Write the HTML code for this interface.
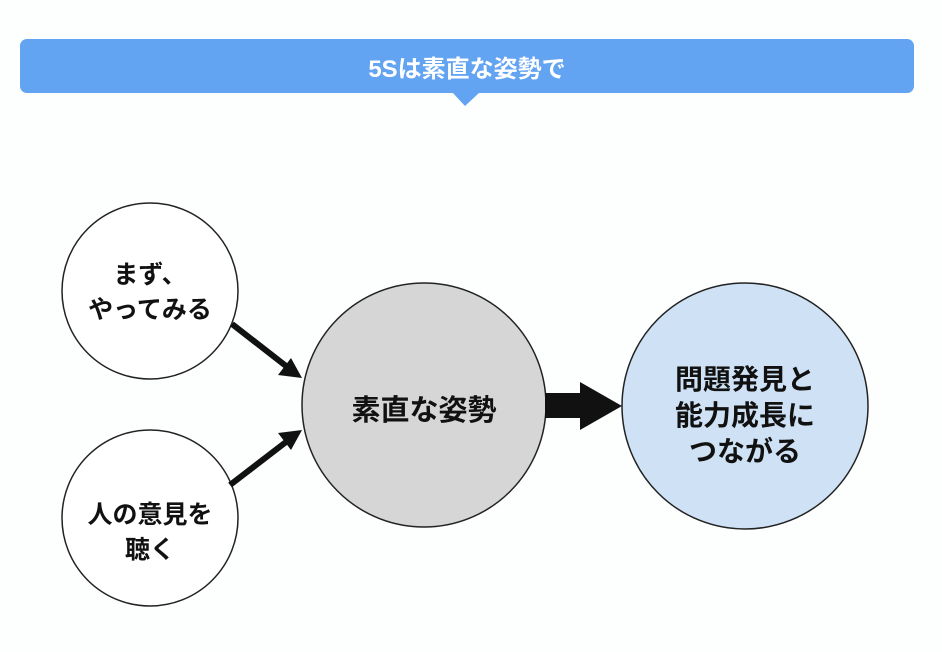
<!DOCTYPE html>
<html><head><meta charset="utf-8"><style>
body{margin:0;background:#fdfefe;}
svg{display:block}
text{font-family:"Liberation Sans","Noto Sans CJK JP",sans-serif;font-weight:bold;}
</style></head><body>
<svg width="942" height="652" viewBox="0 0 942 652">
<rect x="20" y="39" width="894" height="54" rx="7" fill="#62a3f2"/>
<polygon points="452,92 480,92 465,106" fill="#62a3f2"/>
<text x="467" y="77" font-size="24" fill="#fff" text-anchor="middle">5Sは素直な姿勢で</text>
<circle cx="150" cy="291" r="88" fill="#fff" stroke="#222" stroke-width="1.5"/>
<text x="150" y="283" font-size="25" text-anchor="middle" fill="#111">まず、</text>
<text x="150" y="318" font-size="25" text-anchor="middle" fill="#111">やってみる</text>
<circle cx="150" cy="518" r="88" fill="#fff" stroke="#222" stroke-width="1.5"/>
<text x="150" y="523" font-size="25" text-anchor="middle" fill="#111">人の意見を</text>
<text x="150" y="558" font-size="25" text-anchor="middle" fill="#111">聴く</text>
<circle cx="424" cy="405" r="122" fill="#d6d6d6" stroke="#222" stroke-width="1.5"/>
<text x="424" y="420" font-size="29" text-anchor="middle" fill="#111">素直な姿勢</text>
<circle cx="745" cy="406" r="123" fill="#cfe2f5" stroke="#222" stroke-width="1.5"/>
<text x="745" y="389" font-size="28" text-anchor="middle" fill="#111">問題発見と</text>
<text x="745" y="425" font-size="28" text-anchor="middle" fill="#111">能力成長に</text>
<text x="745" y="461" font-size="28" text-anchor="middle" fill="#111">つながる</text>
<line x1="232" y1="324" x2="286" y2="366" stroke="#111" stroke-width="6"/>
<polygon points="302,378 278,375 291,358" fill="#111"/>
<line x1="230" y1="485" x2="286" y2="442" stroke="#111" stroke-width="6"/>
<polygon points="302,430 291,450 278,433" fill="#111"/>
<polygon points="545,393 580,393 580,382 622,406 580,430 580,418 545,418" fill="#111"/>
</svg>
</body></html>
